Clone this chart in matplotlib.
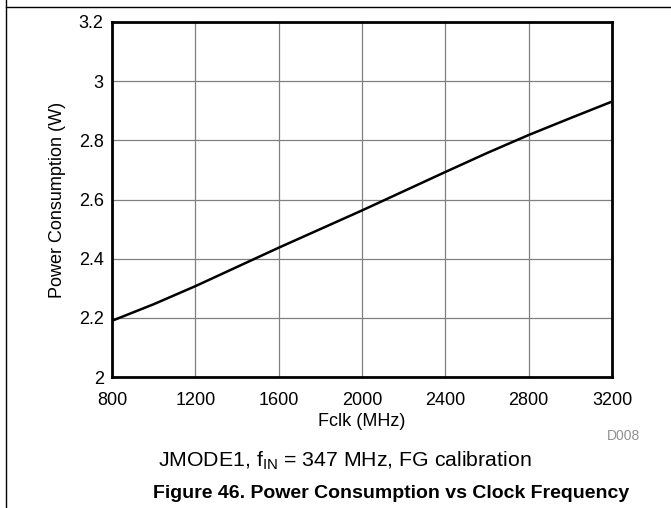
import matplotlib
matplotlib.use("Agg")
import matplotlib.pyplot as plt
from matplotlib.lines import Line2D

plt.rcParams['font.family'] = ['Liberation Sans', 'DejaVu Sans']

# Power consumption vs clock frequency
fclk_mhz = [800, 1000, 1200, 1400, 1600, 1800, 2000, 2200, 2400, 2600, 2800, 3000, 3200]
power_w = [2.190, 2.246, 2.307, 2.372, 2.437, 2.500, 2.563, 2.628, 2.693, 2.757, 2.818, 2.875, 2.931]

x_ticks = [800, 1200, 1600, 2000, 2400, 2800, 3200]
y_ticks = [2, 2.2, 2.4, 2.6, 2.8, 3, 3.2]
y_tick_labels = ['2', '2.2', '2.4', '2.6', '2.8', '3', '3.2']

W, H = 671, 508
fig = plt.figure(figsize=(W / 100, H / 100), dpi=100)
ax = fig.add_axes([112 / W, 1 - 377 / H, 500 / W, 355 / H])

ax.plot(fclk_mhz, power_w, color='black', lw=1.8, solid_capstyle='butt')

ax.set_xlim(800, 3200)
ax.set_ylim(2, 3.2)
ax.set_xticks(x_ticks)
ax.set_yticks(y_ticks)
ax.set_yticklabels(y_tick_labels)
ax.tick_params(length=0, labelsize=13)
ax.tick_params(axis='x', pad=11)
ax.tick_params(axis='y', pad=6)
ax.grid(True, color='#808080', lw=0.9)
for s in ax.spines.values():
    s.set_linewidth(2.0)
    s.set_color('black')

ax.set_xlabel('Fclk (MHz)', fontsize=13, labelpad=3)
ax.set_ylabel('Power Consumption (W)', fontsize=13, labelpad=9)

fig.text(640 / W, 1 - 436 / H, 'D008', color='#909090', fontsize=10, ha='right', va='center')
fig.text(345 / W, 1 - 461 / H, r'JMODE1, f$_{\mathregular{IN}}$ = 347 MHz, FG calibration',
         fontsize=15.3, ha='center', va='center')
fig.text(391 / W, 1 - 493 / H, 'Figure 46. Power Consumption vs Clock Frequency',
         fontsize=14, fontweight='bold', ha='center', va='center')

# page frame lines
fig.add_artist(Line2D([6 / W, 1], [1 - 7 / H, 1 - 7 / H], color='black', lw=1.0))
fig.add_artist(Line2D([6 / W, 6 / W], [0, 1], color='black', lw=1.0))

fig.savefig('out.png', dpi=100)
